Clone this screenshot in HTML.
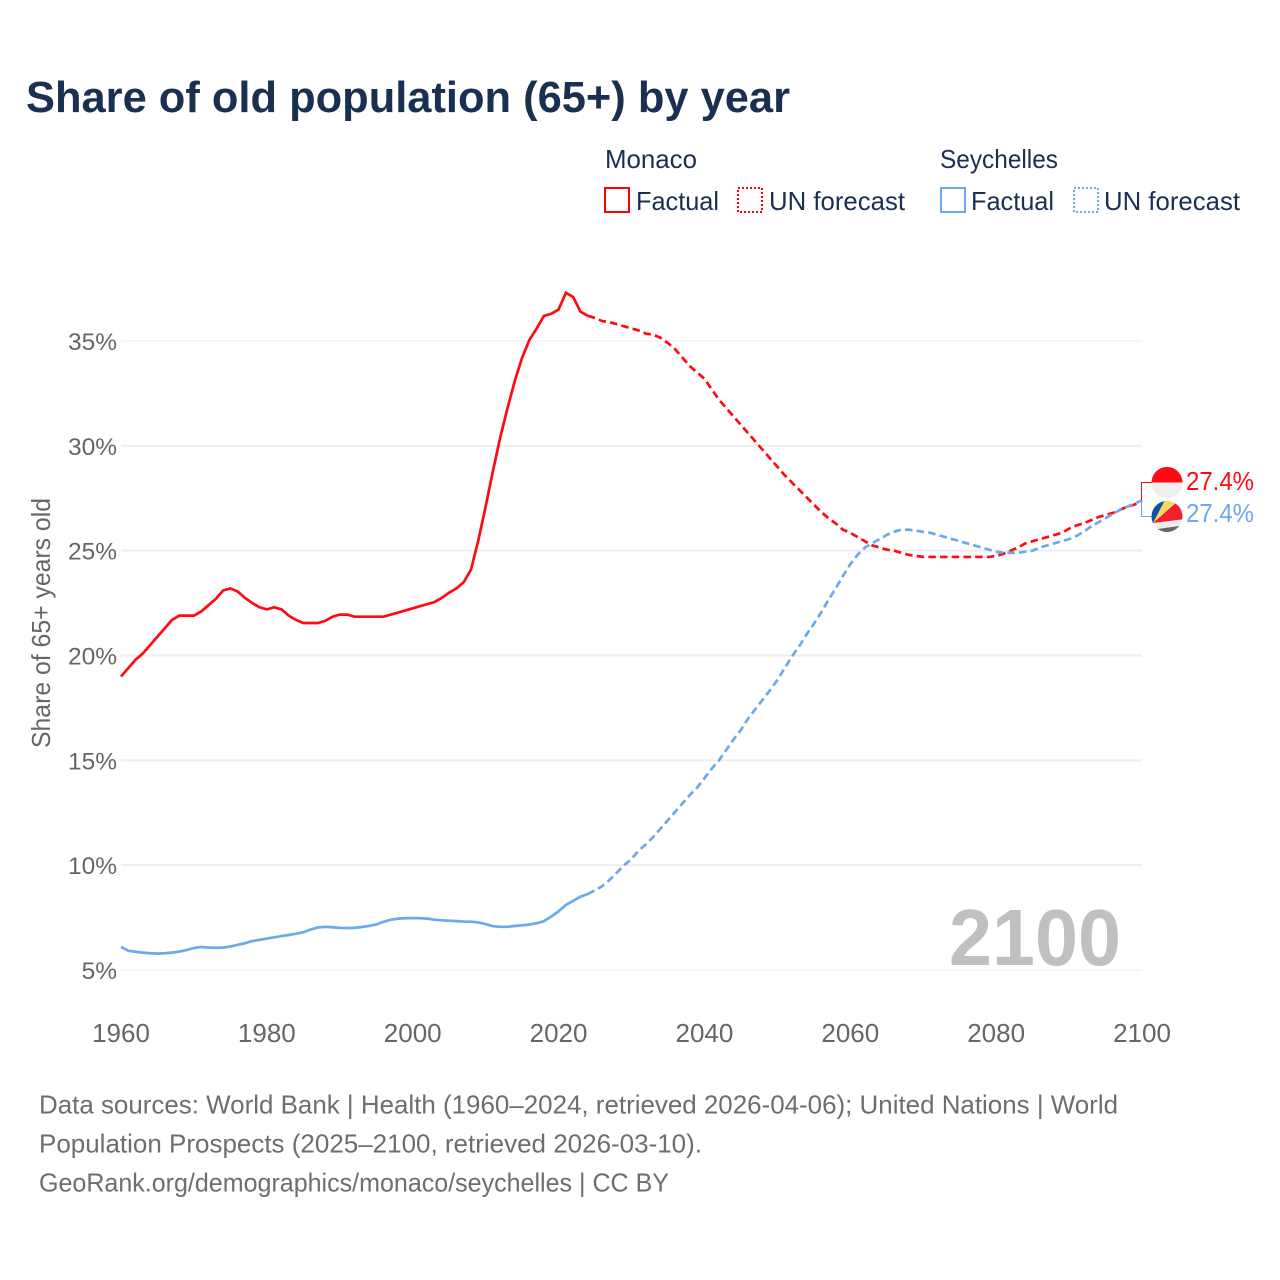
<!DOCTYPE html>
<html lang="en">
<head>
<meta charset="utf-8">
<title>Share of old population (65+) by year</title>
<style>
html,body{margin:0;padding:0;background:#fff;}
svg{display:block;font-family:"Liberation Sans",sans-serif;}
</style>
</head>
<body>
<svg id="chart" xmlns="http://www.w3.org/2000/svg" width="1280" height="1280" viewBox="0 0 1280 1280">
  <rect width="1280" height="1280" fill="#ffffff"/>
  <text x="26" y="112" font-size="44" font-weight="700" fill="#1a3050" textLength="764" lengthAdjust="spacingAndGlyphs">Share of old population (65+) by year</text>

  <g font-size="26" fill="#1a3050">
    <text x="605" y="168" textLength="92" lengthAdjust="spacingAndGlyphs">Monaco</text>
    <rect x="605" y="188" width="24" height="24" fill="none" stroke="#ff0000" stroke-width="2"/>
    <text x="636" y="210" textLength="83" lengthAdjust="spacingAndGlyphs">Factual</text>
    <rect x="738" y="188" width="24" height="24" fill="none" stroke="#ff0000" stroke-width="2" stroke-dasharray="2,2"/>
    <text x="769" y="210" textLength="136" lengthAdjust="spacingAndGlyphs">UN forecast</text>
    <text x="940" y="168" textLength="118" lengthAdjust="spacingAndGlyphs">Seychelles</text>
    <rect x="941" y="188" width="24" height="24" fill="none" stroke="#6aa9ec" stroke-width="2"/>
    <text x="971" y="210" textLength="83" lengthAdjust="spacingAndGlyphs">Factual</text>
    <rect x="1074" y="188" width="24" height="24" fill="none" stroke="#6aa9ec" stroke-width="2" stroke-dasharray="2,2"/>
    <text x="1104" y="210" textLength="136" lengthAdjust="spacingAndGlyphs">UN forecast</text>
  </g>

  <g id="grid"></g>
  <g id="y-ticks"></g>
  <g id="x-ticks"></g>
  <text transform="translate(50,623) rotate(-90)" text-anchor="middle" font-size="26" fill="#666666" textLength="250" lengthAdjust="spacingAndGlyphs">Share of 65+ years old</text>

  <text id="year-label" x="1121" y="965" text-anchor="end" font-size="80" font-weight="700" fill="#c0c0c0" textLength="172" lengthAdjust="spacingAndGlyphs">2100</text>

  <g id="series"></g>
  <g id="end-markers"></g>

  <defs>
    <clipPath id="clip-monaco"><circle cx="1167" cy="482.5" r="15.5"/></clipPath>
    <clipPath id="clip-seychelles"><circle cx="1167" cy="516.5" r="15.5"/></clipPath>
  </defs>
  <g clip-path="url(#clip-monaco)">
    <rect x="1150" y="465" width="34" height="17.5" fill="#ff0a14"/>
    <rect x="1150" y="482.5" width="34" height="17.5" fill="#eeeeee"/>
  </g>
  <g clip-path="url(#clip-seychelles)">
    <rect x="1150" y="499" width="34" height="35" fill="#eeeeee"/>
    <polygon points="1153,523 1148,520 1148,498 1168,498" fill="#0b50a6"/>
    <polygon points="1153,523 1166,498 1180,498" fill="#fcd856"/>
    <polygon points="1153,523 1178,501 1186,510 1186,519" fill="#f2202a"/>
    <polygon points="1158,529 1186,525 1186,536 1158,536" fill="#666666"/>
  </g>

  <g font-size="26" fill="#6e6e6e">
    <text x="39" y="1113.5" textLength="1079" lengthAdjust="spacingAndGlyphs">Data sources: World Bank | Health (1960–2024, retrieved 2026-04-06); United Nations | World</text>
    <text x="39" y="1152.5" textLength="663" lengthAdjust="spacingAndGlyphs">Population Prospects (2025–2100, retrieved 2026-03-10).</text>
    <text x="39" y="1191.5" textLength="630" lengthAdjust="spacingAndGlyphs">GeoRank.org/demographics/monaco/seychelles | CC BY</text>
  </g>
</svg>

<script>
const factualYears = [1960,1961,1962,1963,1964,1965,1966,1967,1968,1969,1970,1971,1972,1973,1974,1975,1976,1977,1978,1979,1980,1981,1982,1983,1984,1985,1986,1987,1988,1989,1990,1991,1992,1993,1994,1995,1996,1997,1998,1999,2000,2001,2002,2003,2004,2005,2006,2007,2008,2009,2010,2011,2012,2013,2014,2015,2016,2017,2018,2019,2020,2021,2022,2023,2024];
const forecastYears = [2024,2025,2026,2027,2028,2029,2030,2031,2032,2033,2034,2035,2036,2037,2038,2039,2040,2041,2042,2043,2044,2045,2046,2047,2048,2049,2050,2051,2052,2053,2054,2055,2056,2057,2058,2059,2060,2061,2062,2063,2064,2065,2066,2067,2068,2069,2070,2071,2072,2073,2074,2075,2076,2077,2078,2079,2080,2081,2082,2083,2084,2085,2086,2087,2088,2089,2090,2091,2092,2093,2094,2095,2096,2097,2098,2099,2100];
const monacoFactual = [19.0,19.4,19.8,20.1,20.5,20.9,21.3,21.7,21.9,21.9,21.9,22.1,22.4,22.7,23.1,23.2,23.05,22.75,22.5,22.3,22.2,22.3,22.2,21.9,21.7,21.55,21.55,21.55,21.65,21.85,21.95,21.95,21.85,21.85,21.85,21.85,21.85,21.95,22.05,22.15,22.25,22.35,22.45,22.55,22.75,23.0,23.2,23.5,24.1,25.5,27.1,28.8,30.4,31.8,33.1,34.2,35.05,35.6,36.2,36.3,36.5,37.3,37.1,36.4,36.2];
const monacoForecast = [36.2,36.1,35.95,35.9,35.8,35.7,35.6,35.5,35.35,35.3,35.15,34.9,34.6,34.2,33.8,33.5,33.2,32.7,32.2,31.8,31.4,31.0,30.6,30.2,29.8,29.4,29.0,28.6,28.25,27.9,27.55,27.2,26.85,26.55,26.3,26.0,25.85,25.65,25.45,25.25,25.15,25.05,25.0,24.9,24.8,24.75,24.7,24.7,24.7,24.7,24.7,24.7,24.7,24.7,24.7,24.7,24.75,24.85,25.0,25.15,25.35,25.45,25.55,25.65,25.75,25.85,26.05,26.2,26.3,26.45,26.6,26.7,26.8,26.95,27.1,27.2,27.4];
const seychellesFactual = [6.1,5.92,5.87,5.83,5.8,5.78,5.8,5.83,5.88,5.95,6.05,6.1,6.07,6.06,6.07,6.12,6.2,6.28,6.38,6.44,6.5,6.56,6.62,6.67,6.73,6.8,6.93,7.03,7.06,7.04,7.01,7.0,7.01,7.05,7.1,7.17,7.3,7.4,7.45,7.47,7.48,7.47,7.45,7.4,7.37,7.35,7.33,7.31,7.3,7.27,7.19,7.09,7.06,7.06,7.1,7.13,7.17,7.23,7.33,7.55,7.8,8.1,8.3,8.5,8.62];
const seychellesForecast = [8.62,8.8,9.0,9.3,9.65,10.0,10.3,10.7,11.0,11.35,11.75,12.15,12.55,12.95,13.35,13.7,14.15,14.6,15.0,15.5,16.0,16.45,17.0,17.45,17.9,18.35,18.83,19.4,19.95,20.45,21.0,21.5,22.05,22.65,23.2,23.8,24.35,24.8,25.15,25.35,25.55,25.75,25.9,26.0,26.0,25.95,25.9,25.85,25.75,25.65,25.55,25.45,25.35,25.25,25.15,25.05,24.95,24.9,24.9,24.9,24.95,25.0,25.15,25.25,25.35,25.45,25.55,25.7,25.9,26.15,26.35,26.55,26.75,26.95,27.1,27.25,27.4];
const yTickValues = [5,10,15,20,25,30,35];
const yTickLabels = ["5%","10%","15%","20%","25%","30%","35%"];
const xTickValues = [1960,1980,2000,2020,2040,2060,2080,2100];
const xTickLabels = ["1960","1980","2000","2020","2040","2060","2080","2100"];

const SVGNS = "http://www.w3.org/2000/svg";
function xScale(year) { return 121 + (year - 1960) * (1142 - 121) / 140; }
function yScale(value) { return 970 - (value - 5) * (970 - 341) / 30; }
function svgEl(tag, parent) {
  const el = document.createElementNS(SVGNS, tag);
  parent.appendChild(el);
  return el;
}
function linePath(years, values) {
  return years.map(function (year, i) {
    return (i ? "L" : "M") + xScale(year).toFixed(2) + " " + yScale(values[i]).toFixed(2);
  }).join("");
}

const grid = document.getElementById("grid");
yTickValues.forEach(function (value, i) {
  const line = svgEl("line", grid);
  
  
  line.setAttribute("x1", 121);
  line.setAttribute("x2", 1142);
  line.setAttribute("y1", yScale(value));
  line.setAttribute("y2", yScale(value));
  line.setAttribute("stroke", "#eeeeee");
  line.setAttribute("stroke-width", (value === 5 || value === 35) ? 1 : 2);
});

const yTicks = document.getElementById("y-ticks");
yTickValues.forEach(function (value, i) {
  const t = svgEl("text", yTicks);
  
  
  t.setAttribute("x", 117);
  t.setAttribute("y", yScale(value) + 9);
  t.setAttribute("text-anchor", "end");
  t.setAttribute("font-size", 24.5);
  t.setAttribute("fill", "#666666");
  t.textContent = yTickLabels[i];
});

const xTicks = document.getElementById("x-ticks");
xTickValues.forEach(function (value, i) {
  const t = svgEl("text", xTicks);
  
  
  t.setAttribute("x", xScale(value));
  t.setAttribute("y", 1042);
  t.setAttribute("text-anchor", "middle");
  t.setAttribute("font-size", 26);
  t.setAttribute("fill", "#666666");
  t.textContent = xTickLabels[i];
});

const series = document.getElementById("series");

const seychellesFactualLine = svgEl("path", series);


seychellesFactualLine.setAttribute("d", linePath(factualYears, seychellesFactual));
seychellesFactualLine.setAttribute("fill", "none");
seychellesFactualLine.setAttribute("stroke", "#6aa9ec");
seychellesFactualLine.setAttribute("stroke-width", 2.7);

const monacoFactualLine = svgEl("path", series);


monacoFactualLine.setAttribute("d", linePath(factualYears, monacoFactual));
monacoFactualLine.setAttribute("fill", "none");
monacoFactualLine.setAttribute("stroke", "#ff0a14");
monacoFactualLine.setAttribute("stroke-width", 2.7);

const monacoForecastLine = svgEl("path", series);


monacoForecastLine.setAttribute("d", linePath(forecastYears, monacoForecast));
monacoForecastLine.setAttribute("fill", "none");
monacoForecastLine.setAttribute("stroke", "#ff0a14");
monacoForecastLine.setAttribute("stroke-width", 2.7);
monacoForecastLine.setAttribute("stroke-dasharray", "7.5,4.2");

const seychellesForecastLine = svgEl("path", series);


seychellesForecastLine.setAttribute("d", linePath(forecastYears, seychellesForecast));
seychellesForecastLine.setAttribute("fill", "none");
seychellesForecastLine.setAttribute("stroke", "#6aa9ec");
seychellesForecastLine.setAttribute("stroke-width", 2.7);
seychellesForecastLine.setAttribute("stroke-dasharray", "7.5,4.2");

const endMarkers = document.getElementById("end-markers");
const monacoEnd = monacoForecast[monacoForecast.length - 1];
const seychellesEnd = seychellesForecast[seychellesForecast.length - 1];

const monacoConnector = svgEl("path", endMarkers);


monacoConnector.setAttribute("d", "M1141.5 " + yScale(monacoEnd).toFixed(1) + "V482.5H1153");
monacoConnector.setAttribute("fill", "none");
monacoConnector.setAttribute("stroke", "#ff0a14");
monacoConnector.setAttribute("stroke-width", 1);

const seychellesConnector = svgEl("path", endMarkers);


seychellesConnector.setAttribute("d", "M1141.5 " + yScale(seychellesEnd).toFixed(1) + "V516.5H1153");
seychellesConnector.setAttribute("fill", "none");
seychellesConnector.setAttribute("stroke", "#6aa9ec");
seychellesConnector.setAttribute("stroke-width", 1);

const monacoLabel = svgEl("text", endMarkers);


monacoLabel.setAttribute("x", 1186);
monacoLabel.setAttribute("y", 490);
monacoLabel.setAttribute("font-size", 26);
monacoLabel.setAttribute("fill", "#ff0a14");
monacoLabel.setAttribute("textLength", 68);
monacoLabel.setAttribute("lengthAdjust", "spacingAndGlyphs");
monacoLabel.textContent = monacoEnd.toFixed(1) + "%";

const seychellesLabel = svgEl("text", endMarkers);


seychellesLabel.setAttribute("x", 1186);
seychellesLabel.setAttribute("y", 522);
seychellesLabel.setAttribute("font-size", 26);
seychellesLabel.setAttribute("fill", "#6aa9ec");
seychellesLabel.setAttribute("textLength", 68);
seychellesLabel.setAttribute("lengthAdjust", "spacingAndGlyphs");
seychellesLabel.textContent = seychellesEnd.toFixed(1) + "%";
</script>
</body>
</html>
